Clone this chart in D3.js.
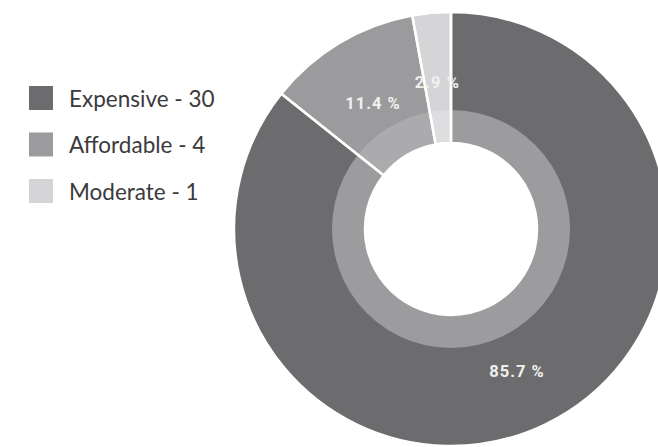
<!DOCTYPE html>
<html><head><meta charset="utf-8">
<script src="https://cdn.jsdelivr.net/npm/d3@7"></script>
<style>body{margin:0;background:#fff;}svg{display:block;}</style>
</head><body>
<svg id="chart" width="658" height="447"></svg>
<script>
const categories = ["Expensive", "Affordable", "Moderate"];
const values = [30, 4, 1];
const colors = ["#6c6c6e", "#9b9b9d", "#d5d5d7"];
const ringColors = ["#9c9c9e", "#ababad", "#dedee0"];

const svg = d3.select("#chart");
const cx = 451, cy = 229, outerR = 217, innerR = 86, ringR = 119;
const total = d3.sum(values);
const data = categories.map((c, i) => ({cat: c, value: values[i], color: colors[i], ring: ringColors[i]}));

const pie = d3.pie().value(d => d.value).sort(null);
const arcs = pie(data);
const arc = d3.arc().innerRadius(innerR).outerRadius(outerR);
const ringArc = d3.arc().innerRadius(innerR).outerRadius(ringR);
const g = svg.append("g").attr("transform", `translate(${cx},${cy})`);

g.selectAll("path.slice").data(arcs).enter().append("path")
  .attr("class", "slice")
  .attr("d", arc)
  .attr("fill", d => d.data.color);

g.selectAll("path.ring").data(arcs).enter().append("path")
  .attr("class", "ring")
  .attr("d", ringArc)
  .attr("fill", d => d.data.ring);

// white separators
g.selectAll("path.sep").data(arcs).enter().append("path")
  .attr("class", "sep")
  .attr("d", arc)
  .attr("fill", "none")
  .attr("stroke", "#fff").attr("stroke-width", 2.5);

const labelArc = d3.arc().innerRadius(152).outerRadius(152);
g.selectAll("text.lbl").data(arcs).enter().append("text")
  .attr("class", "lbl")
  .attr("transform", d => { const c = labelArc.centroid(d); return `translate(${c[0]},${c[1] + 5})`; })
  .attr("text-anchor", "middle")
  .attr("dy", "0.35em")
  .attr("fill", "#f0f0f0")
  .style("font-family", "Roboto, sans-serif")
  .style("font-weight", "bold")
  .style("font-size", "16.5px")
  .style("letter-spacing", "1px")
  .text(d => (d.data.value / total * 100).toFixed(1) + " %");

const legend = svg.append("g");
const rows = legend.selectAll("g").data(data).enter().append("g")
  .attr("transform", (d, i) => `translate(29,${86 + i * 46.5})`);
rows.append("rect").attr("width", 24).attr("height", 24).attr("fill", d => d.color);
rows.append("text").attr("x", 40).attr("y", 13).attr("dy", "0.35em")
  .attr("fill", "#3a3a3c")
  .style("font-family", "Lato, sans-serif")
  .style("font-size", "22.5px")
  .text(d => `${d.cat} - ${d.value}`);
</script>
</body></html>
